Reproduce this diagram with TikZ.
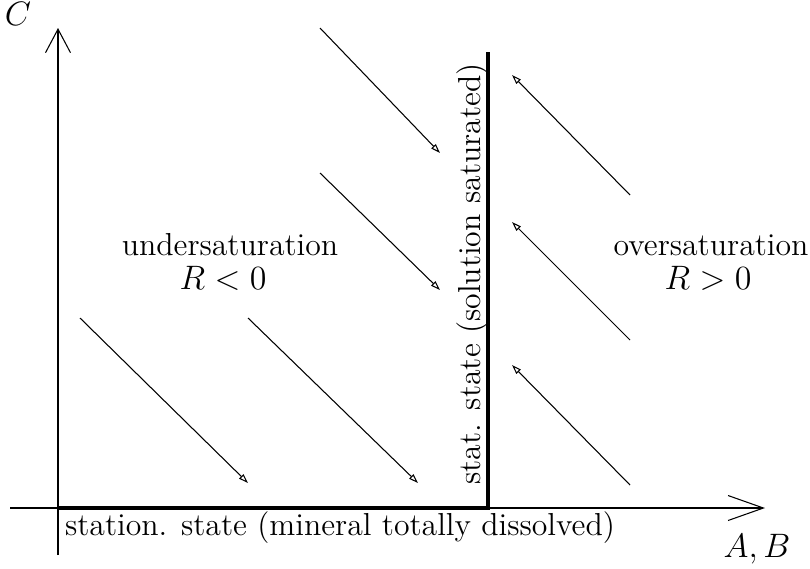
\documentclass[tikz,border=0pt]{standalone}
\usepackage{amsmath,amssymb}
\usetikzlibrary{arrows.meta}

\begin{document}
\begin{tikzpicture}[
  x=0.01492cm, y=-0.01492cm,
  yaxis/.style={line width=0.45pt, -{Straight Barb[length=10pt, width=10.6pt, line width=0.45pt]}},
  xaxis/.style={line width=0.45pt, -{Straight Barb[length=15pt, width=10.6pt, line width=0.45pt]}},
  flow/.style={line width=0.45pt, -{Triangle[open, length=4pt, width=2.6pt, line width=0.45pt]}},
  steady/.style={line width=1.7pt},
  lbl/.style={inner sep=0pt, anchor=base, font=\fontsize{13.5pt}{16pt}\selectfont}
]
\useasboundingbox (0,0) rectangle (810,568);

% axes
\coordinate (ybot) at (58,555);
\coordinate (ytop) at (58,28);
\coordinate (xleft) at (10,508);
\coordinate (xright) at (765,508);
\draw[yaxis] (ybot) -- (ytop);
\draw[xaxis] (xleft) -- (xright);
\node[lbl] (clab) at (18,25) {$C$};
\node[lbl] (ablab) at (757,557) {$A,B$};

% stationary states
\coordinate (origin) at (58,508);
\coordinate (corner) at (488,508);
\coordinate (top) at (488,52);
\draw[steady] (origin) -- (corner) -- (top);
\node[lbl] (bottomtxt) at (340,535) {station. state (mineral totally dissolved)};
\node[lbl, rotate=90] (sidetxt) at (480,274) {stat. state (solution saturated)};

% regions
\node[lbl] (under) at (230,255) {undersaturation};
\node[lbl] (underR) at (223,289) {$R<0$};
\node[lbl] (over) at (711,255) {oversaturation};
\node[lbl] (overR) at (708,289) {$R>0$};

% reaction directions
\foreach \i/\a/\b/\c/\d in {1/80/318/248/483, 2/248/318/418/483, 3/320/173/440/290, 4/320/28/440/153,
                            5/630/485/512/365, 6/630/340/512/222, 7/630/195/512/75} {
  \coordinate (s\i) at (\a,\b);
  \coordinate (e\i) at (\c,\d);
  \draw[flow] (s\i) -- (e\i);
}
\end{tikzpicture}
\end{document}
